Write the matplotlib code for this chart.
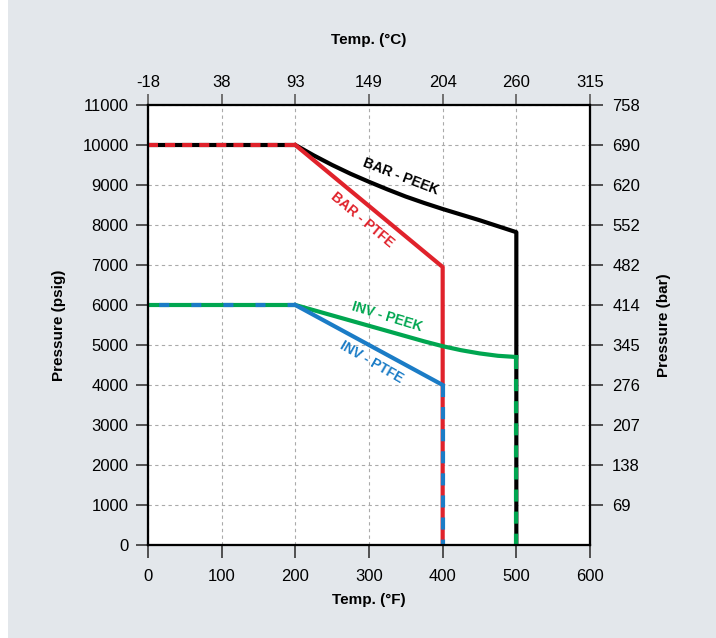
import numpy as np
import matplotlib.pyplot as plt
from matplotlib.patches import Rectangle

plt.rcParams['font.family'] = ['Liberation Sans', 'DejaVu Sans']

# Temperatur (F) og trykk (psig) for hver kurve
bar_peek_t = [0, 200, 225, 250, 275, 300, 325, 350, 375, 400, 425, 450, 475, 500, 500]
bar_peek_p = [10000, 10000, 9740, 9500, 9280, 9080, 8890, 8710, 8550, 8400, 8260,
              8120, 7970, 7820, 0]

bar_ptfe_t = [0, 200, 400, 400]
bar_ptfe_p = [10000, 10000, 6950, 0]

inv_peek_t = [0, 200, 225, 250, 275, 300, 325, 350, 375, 400, 425, 450, 475, 500, 500]
inv_peek_p = [6000, 6000, 5870, 5740, 5610, 5480, 5350, 5220, 5090, 4970, 4870,
              4790, 4730, 4700, 0]

inv_ptfe_t = [0, 200, 400, 400]
inv_ptfe_p = [6000, 6000, 4000, 0]

f_ticks = [0, 100, 200, 300, 400, 500, 600]
c_labels = ['-18', '38', '93', '149', '204', '260', '315']
psi_ticks = [0, 1000, 2000, 3000, 4000, 5000, 6000, 7000, 8000, 9000, 10000, 11000]
bar_ticks = [1000, 2000, 3000, 4000, 5000, 6000, 7000, 8000, 9000, 10000, 11000]
bar_labels = ['69', '138', '207', '276', '345', '414', '482', '552', '620', '690', '758']

black = '#000000'
red = '#e0222b'
green = '#00a650'
blue = '#1b7cc6'
lw = 3.0

fig = plt.figure(figsize=(7.16, 6.38), dpi=100)
fig.patch.set_facecolor('white')
fig.patches.append(Rectangle((8 / 716, 0), 1, 1, transform=fig.transFigure,
                             facecolor='#e3e7eb', edgecolor='none', zorder=-10))

ax = fig.add_axes([148 / 716, 1 - 545 / 638, 442 / 716, 440 / 638])
ax.set_facecolor('white')
ax.set_xlim(0, 600)
ax.set_ylim(0, 11000)

ax.grid(True, color='#aaaaaa', linestyle=(0, (3, 3)), linewidth=0.8)
ax.set_axisbelow(True)

# Heltrukne linjer
ax.plot(bar_peek_t, bar_peek_p, color=black, lw=lw, zorder=3)
ax.plot(bar_ptfe_t[1:], bar_ptfe_p[1:], color=red, lw=lw, zorder=3)
ax.plot(inv_peek_t[:-1], inv_peek_p[:-1], color=green, lw=lw, zorder=3)
ax.plot(inv_ptfe_t[1:3], inv_ptfe_p[1:3], color=blue, lw=lw, zorder=3)

# Stiplede linjer der kurvene overlapper
ax.plot(bar_ptfe_t[:2], bar_ptfe_p[:2], color=red, lw=lw, zorder=4,
        linestyle=(0, (2.4, 1.7)), dash_capstyle='butt')
ax.plot(inv_ptfe_t[:2], inv_ptfe_p[:2], color=blue, lw=lw, zorder=4,
        linestyle=(5, (2.4, 5.3)), dash_capstyle='butt')
ax.plot(inv_ptfe_t[2:], inv_ptfe_p[2:], color=blue, lw=lw, zorder=4,
        linestyle=(0, (2.9, 2.4)), dash_capstyle='butt')
ax.plot(inv_peek_t[-2:], inv_peek_p[-2:], color=green, lw=lw, zorder=4,
        linestyle=(0, (2.9, 2.4)), dash_capstyle='butt')

ax.text(343, 9200, 'BAR - PEEK', color=black, rotation=-21, fontsize=10,
        fontweight='bold', ha='center', va='center', rotation_mode='anchor')
ax.text(291, 8125, 'BAR - PTFE', color=red, rotation=-40, fontsize=10,
        fontweight='bold', ha='center', va='center', rotation_mode='anchor')
ax.text(325, 5700, 'INV - PEEK', color=green, rotation=-17, fontsize=10,
        fontweight='bold', ha='center', va='center', rotation_mode='anchor')
ax.text(304, 4560, 'INV - PTFE', color=blue, rotation=-30, fontsize=10,
        fontweight='bold', ha='center', va='center', rotation_mode='anchor')

ax.set_xticks(f_ticks)
ax.set_yticks(psi_ticks)
ax.tick_params(axis='both', direction='out', length=9, width=1.3,
               color='#444444', labelsize=12, pad=7)
ax.tick_params(axis='x', pad=8)
ax.tick_params(axis='y', pad=5)
ax.set_xlabel('Temp. (°F)', fontsize=11, fontweight='bold', labelpad=7)
ax.set_ylabel('Pressure (psig)', fontsize=11, fontweight='bold', labelpad=12)
for s in ax.spines.values():
    s.set_linewidth(1.5)

# Celsius-akse oppe
ax_top = ax.twiny()
ax_top.set_xlim(ax.get_xlim())
ax_top.set_xticks(f_ticks)
ax_top.set_xticklabels(c_labels)
ax_top.tick_params(axis='x', direction='out', length=8, width=1.3,
                   color='#666666', labelsize=12, pad=3)
ax_top.set_xlabel('Temp. (°C)', fontsize=11, fontweight='bold', labelpad=22)

# Bar-akse til hoyre
ax_right = ax.twinx()
ax_right.set_ylim(ax.get_ylim())
ax_right.set_yticks(bar_ticks)
ax_right.set_yticklabels(bar_labels)
ax_right.tick_params(axis='y', direction='out', length=9, width=1.3,
                     color='#444444', labelsize=12, pad=7)
ax_right.set_ylabel('Pressure (bar)', fontsize=11, fontweight='bold', labelpad=12)
for a in (ax_top, ax_right):
    for s in a.spines.values():
        s.set_linewidth(1.5)

plt.savefig('out.png', dpi=100)
